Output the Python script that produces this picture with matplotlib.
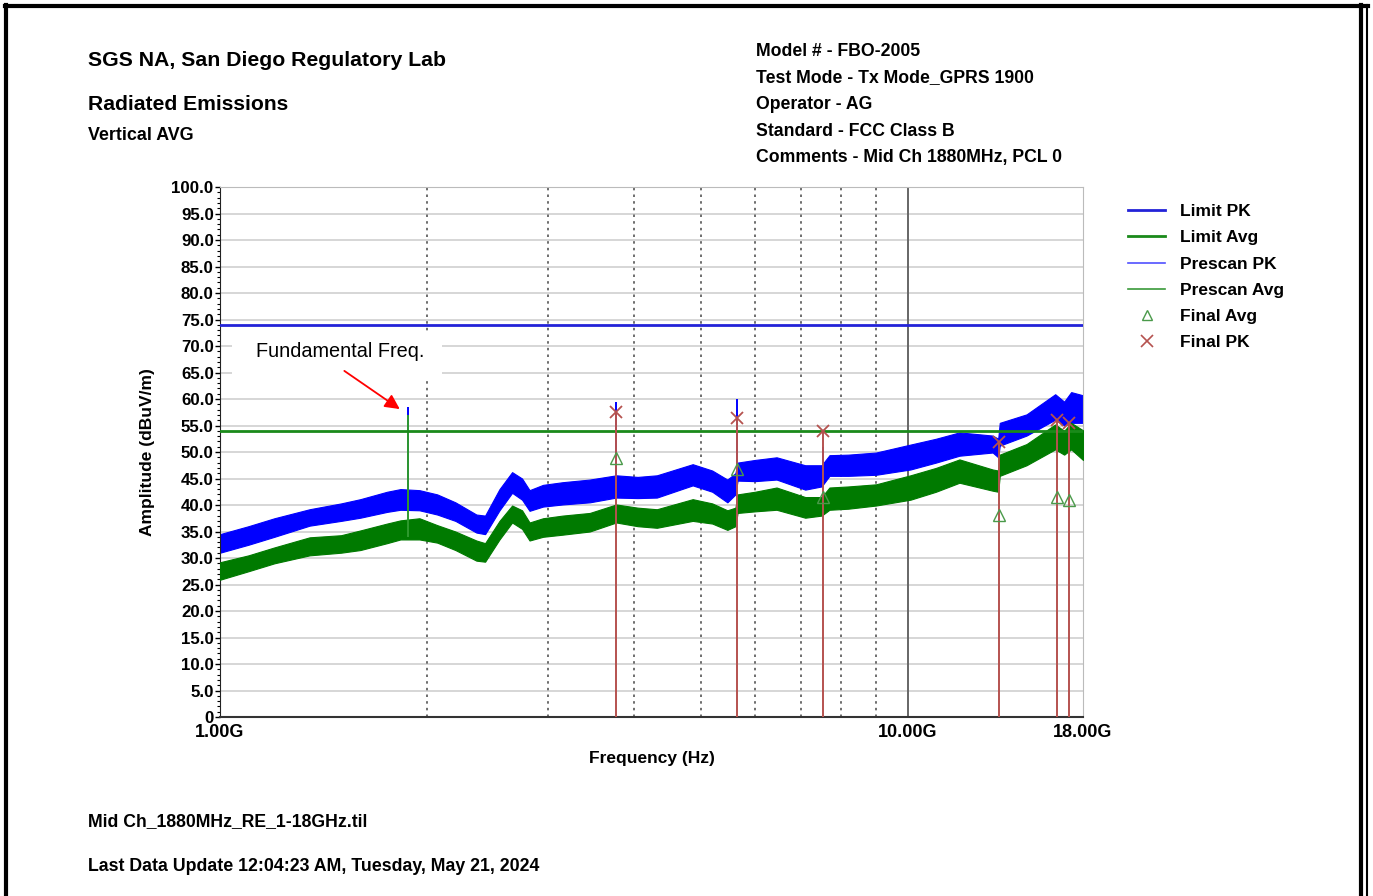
import matplotlib
matplotlib.use("Agg")
import matplotlib.pyplot as plt
from matplotlib.lines import Line2D
from matplotlib.patches import Rectangle
from matplotlib.ticker import FixedLocator, MultipleLocator, NullFormatter

plt.rcParams['font.family'] = ['Liberation Sans', 'DejaVu Sans']

# ---------------- data ----------------
freq_ghz = [1.00, 1.10, 1.20, 1.35, 1.50, 1.60, 1.75, 1.83, 1.95, 2.07, 2.20, 2.36,
            2.43, 2.55, 2.66, 2.75, 2.82, 2.95, 3.15, 3.45, 3.77, 4.05, 4.32, 4.87,
            5.20, 5.47, 5.62, 5.66, 6.00, 6.45, 7.10, 7.50, 7.70, 8.20, 9.00, 10.1,
            11.0, 11.9, 13.3, 13.55, 13.62, 14.9, 16.4, 16.9, 17.3, 18.0]
pk_lo = [31.0, 32.5, 34.0, 36.1, 37.0, 37.6, 38.7, 39.1, 39.0, 38.2, 37.0, 34.8,
         34.5, 39.0, 42.3, 41.0, 38.9, 39.7, 40.1, 40.5, 41.4, 41.3, 41.4, 43.7,
         42.5, 40.5, 42.0, 44.6, 44.5, 44.8, 42.9, 43.5, 45.5, 45.5, 45.7, 46.7,
         48.0, 49.3, 49.9, 49.0, 51.2, 53.1, 56.1, 55.0, 55.5, 55.5]
pk_hi = [34.5, 36.0, 37.5, 39.2, 40.3, 41.1, 42.5, 43.0, 42.8, 42.0, 40.5, 38.2,
         38.0, 43.0, 46.2, 45.0, 42.8, 43.8, 44.3, 44.8, 45.6, 45.3, 45.6, 47.7,
         46.5, 44.8, 46.0, 48.0, 48.5, 49.0, 47.5, 47.5, 49.4, 49.5, 49.9, 51.4,
         52.5, 53.7, 53.1, 52.5, 55.5, 57.1, 60.9, 59.5, 61.3, 60.7]
avg_lo = [25.9, 27.5, 29.0, 30.5, 31.0, 31.5, 32.8, 33.5, 33.5, 32.9, 31.5, 29.5,
          29.3, 33.5, 36.7, 35.5, 33.3, 34.0, 34.4, 35.0, 36.7, 36.0, 35.7, 37.0,
          36.5, 35.3, 36.0, 38.5, 38.8, 39.1, 37.6, 38.0, 39.1, 39.3, 39.9, 41.0,
          42.5, 44.2, 42.7, 42.5, 45.5, 47.5, 50.5, 49.5, 50.5, 48.5]
avg_hi = [29.2, 30.5, 32.0, 33.9, 34.3, 35.2, 36.5, 37.1, 37.5, 36.2, 35.0, 33.3,
          32.8, 37.0, 39.9, 39.0, 36.7, 37.5, 38.0, 38.5, 40.1, 39.5, 39.2, 41.1,
          40.3, 39.0, 39.5, 42.0, 42.5, 43.3, 41.5, 41.5, 43.3, 43.5, 43.9, 45.6,
          47.0, 48.6, 46.7, 46.5, 49.5, 51.5, 55.2, 54.0, 55.5, 54.1]

# narrow prescan spikes
spike_freq = [1.88, 3.763, 5.648, 7.532]
spike_base = [39.0, 42.0, 45.0, 46.0]
spike_pk = [58.5, 59.4, 60.0, 51.0]
fund_avg_freq = 1.88
fund_avg_base = 34.0
fund_avg_val = 57.0

# limits
limit_pk = 74.0
limit_avg = 54.0

# final measurements
final_freq = [3.763, 5.648, 7.532, 13.57, 16.51, 17.16]
final_pk = [57.5, 56.4, 54.0, 51.9, 56.0, 55.5]
final_avg = [48.9, 46.8, 41.5, 38.1, 41.5, 41.0]

y_ticks = [0, 5, 10, 15, 20, 25, 30, 35, 40, 45, 50, 55, 60, 65, 70, 75, 80, 85, 90, 95, 100]
y_tick_labels = ["0"] + [f"{v:.1f}" for v in y_ticks[1:]]
x_ticks = [1.0, 10.0, 18.0]
x_tick_labels = ["1.00G", "10.00G", "18.00G"]
dotted_grid = [2, 3, 4, 5, 6, 7, 8, 9]

header_left = ["SGS NA, San Diego Regulatory Lab", "Radiated Emissions", "Vertical AVG"]
header_right = ["Model # - FBO-2005", "Test Mode - Tx Mode_GPRS 1900", "Operator - AG",
                "Standard - FCC Class B", "Comments - Mid Ch 1880MHz, PCL 0"]
footer = ["Mid Ch_1880MHz_RE_1-18GHz.til",
          "Last Data Update 12:04:23 AM, Tuesday, May 21, 2024"]
legend_labels = ["Limit PK", "Limit Avg", "Prescan PK", "Prescan Avg", "Final Avg", "Final PK"]

# ---------------- colours ----------------
BLUE = "#0000ff"
GREEN = "#007a00"
LIM_BLUE = "#2323d8"
LIM_GREEN = "#1a8a1a"
RED = "#b5524f"
TRI = "#4a9a4a"

W, H = 1373, 896
fig = plt.figure(figsize=(W / 100, H / 100), dpi=100)

def fx(px):
    return px / W

def fy(py):
    return 1 - py / H

ax = fig.add_axes([fx(220), fy(717), fx(1083) - fx(220), fy(187) - fy(717)])
ax.set_xscale("log")
ax.set_xlim(1.0, 18.0)
ax.set_ylim(0, 100)

# grid
for v in y_ticks[1:]:
    ax.axhline(v, color="#cfcfcf", lw=1.2, zorder=0)
for g in dotted_grid:
    ax.axvline(g, color="#555555", lw=1.2, ls=(0, (1.5, 2.5)), zorder=0.5)
ax.axvline(10, color="#666666", lw=1.4, zorder=0.5)

# prescan traces (envelopes)
ax.fill_between(freq_ghz, pk_lo, pk_hi, color=BLUE, lw=0.8, edgecolor=BLUE, zorder=2)
ax.fill_between(freq_ghz, avg_lo, avg_hi, color=GREEN, lw=0.8, edgecolor=GREEN, zorder=3)

# spikes
ax.vlines(spike_freq, spike_base, spike_pk, color=BLUE, lw=1.4, zorder=4)
ax.vlines([fund_avg_freq], [fund_avg_base], [fund_avg_val], color="#2f9a2f", lw=1.4, zorder=4)

# limits
ax.axhline(limit_pk, color=LIM_BLUE, lw=2, zorder=5)
ax.axhline(limit_avg, color=LIM_GREEN, lw=2, zorder=5)

# finals
ax.vlines(final_freq, 0, final_pk, color=RED, lw=1.4, zorder=6)
ax.plot(final_freq, final_pk, ls="none", marker="x", ms=9, mew=1.3, color=RED, zorder=7)
ax.plot(final_freq, final_avg, ls="none", marker="^", ms=8, mfc="none", mew=1.0, mec=TRI, zorder=7)

# ticks
ax.yaxis.set_major_locator(FixedLocator(y_ticks))
ax.set_yticklabels(y_tick_labels)
ax.yaxis.set_minor_locator(MultipleLocator(1))
ax.xaxis.set_major_locator(FixedLocator(x_ticks))
ax.set_xticklabels(x_tick_labels)
ax.xaxis.set_minor_locator(FixedLocator([]))
ax.xaxis.set_minor_formatter(NullFormatter())
ax.tick_params(axis="y", which="major", length=3.5, width=1, direction="out", pad=1,
               labelsize=12.2)
ax.tick_params(axis="y", which="minor", length=2, width=0.8, direction="out")
ax.tick_params(axis="x", which="major", length=0, pad=5, labelsize=13)
for lab in ax.get_yticklabels() + ax.get_xticklabels():
    lab.set_fontweight("bold")

for s in ["top", "right"]:
    ax.spines[s].set_color("#bbbbbb")
ax.spines["left"].set_color("#222222")
ax.spines["bottom"].set_color("#333333")
ax.spines["bottom"].set_linewidth(1.5)

ax.set_xlabel("Frequency (Hz)", fontsize=12.5, fontweight="bold", labelpad=7)
ax.set_ylabel("Amplitude (dBuV/m)", fontsize=12.5, fontweight="bold", labelpad=12)

# annotation: white label box over the grid
ax.add_patch(Rectangle((1.041, 64.0), 2.102 - 1.041, 72.5 - 64.0, facecolor="white",
                       edgecolor="none", zorder=7.5))
ax.text(1.128, 69.0, "Fundamental Freq.", fontsize=14.3, va="center", ha="left", zorder=8)
ax.annotate("", xy=(1.84, 57.8), xytext=(1.505, 65.6),
            arrowprops=dict(arrowstyle="-|>", color="#ff0000", lw=1.3, mutation_scale=22),
            zorder=9)

# legend
handles = [
    Line2D([], [], color=LIM_BLUE, lw=2),
    Line2D([], [], color=LIM_GREEN, lw=2),
    Line2D([], [], color="#5050ff", lw=1.2),
    Line2D([], [], color="#3a9a3a", lw=1.2),
    Line2D([], [], ls="none", marker="^", ms=7, mfc="none", mec=TRI, mew=1.0),
    Line2D([], [], ls="none", marker="x", ms=8, mew=1.2, color=RED),
]
leg = fig.legend(handles, legend_labels, loc="upper left",
                 bbox_to_anchor=(fx(1128), fy(204)), frameon=False,
                 prop=dict(size=12.5, weight="bold"), handlelength=2.15,
                 handletextpad=0.85, labelspacing=0.64, borderaxespad=0, borderpad=0)

# header / footer texts
for txt, y, sz in zip(header_left, [60, 104, 135], [15.3, 15.2, 12.9]):
    fig.text(fx(88), fy(y), txt, fontsize=sz, fontweight="bold", va="center", ha="left")
for i, txt in enumerate(header_right):
    fig.text(fx(756), fy(51 + i * 26.7), txt, fontsize=12.7, fontweight="bold",
             va="center", ha="left")
fig.text(fx(88), fy(822), footer[0], fontsize=12.7, fontweight="bold", va="center", ha="left")
fig.text(fx(88), fy(866), footer[1], fontsize=12.8, fontweight="bold", va="center", ha="left")

# page border
fig.add_artist(Line2D([fx(6), fx(6)], [fy(5), fy(896)], color="black", lw=3))
fig.add_artist(Line2D([fx(5), fx(1368)], [fy(6), fy(6)], color="black", lw=3))
fig.add_artist(Line2D([fx(1361), fx(1361)], [fy(5), fy(896)], color="black", lw=3))
fig.add_artist(Line2D([fx(1367), fx(1367)], [fy(5), fy(896)], color="black", lw=1.5))

fig.savefig("out.png", dpi=100, facecolor="white")
